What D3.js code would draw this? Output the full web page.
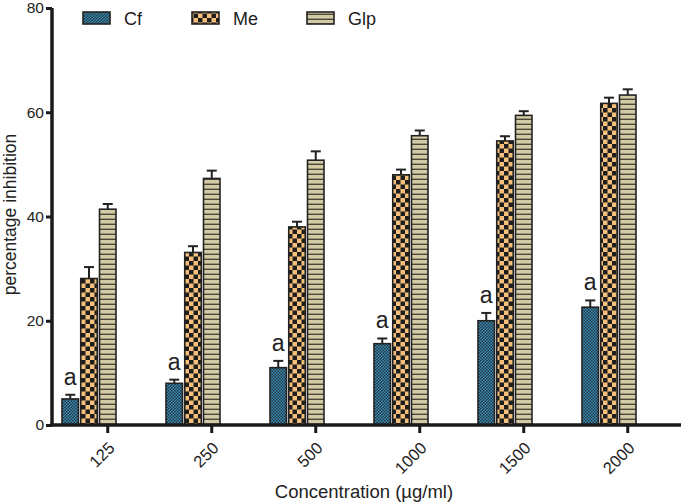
<!DOCTYPE html>
<html>
<head>
<meta charset="utf-8">
<script src="https://cdn.jsdelivr.net/npm/d3@7"></script>
<style>
body { margin: 0; background: #fff; }
text { font-family: Arial, "Liberation Sans", sans-serif; fill: #222; }
</style>
</head>
<body>
<script>
let concentrations = ["125", "250", "500", "1000", "1500", "2000"];
let seriesNames = ["Cf", "Me", "Glp"];
let cfValues = [5.0, 8.0, 11.0, 15.6, 20.0, 22.6];
let cfErrors = [0.8, 0.7, 1.3, 1.0, 1.5, 1.3];
let meValues = [28.1, 33.1, 38.0, 48.0, 54.5, 61.7];
let meErrors = [2.2, 1.2, 1.0, 1.0, 0.9, 1.1];
let glpValues = [41.4, 47.3, 50.8, 55.5, 59.4, 63.3];
let glpErrors = [1.0, 1.5, 1.7, 1.0, 0.8, 1.1];
let yTicks = [0, 20, 40, 60, 80];
let sigLabel = "a";

let svgWidth = 685,
    svgHeight = 503,
    margin = {top: 8, right: 5, bottom: 78, left: 52};

let svg = d3.select("body").append("svg")
    .attr("width", svgWidth)
    .attr("height", svgHeight);

let defs = svg.append("defs");

// fine checker for Cf
let pCf = defs.append("pattern").attr("id", "pCf")
    .attr("patternUnits", "userSpaceOnUse").attr("width", 3).attr("height", 3);
pCf.append("rect").attr("width", 3).attr("height", 3).attr("fill", "#3d8fb5");
pCf.append("rect").attr("width", 1.5).attr("height", 1.5).attr("fill", "#1f3340");
pCf.append("rect").attr("x", 1.5).attr("y", 1.5).attr("width", 1.5).attr("height", 1.5).attr("fill", "#1f3340");

// coarse checker for Me
let pMe = defs.append("pattern").attr("id", "pMe")
    .attr("patternUnits", "userSpaceOnUse").attr("width", 9).attr("height", 9);
pMe.append("rect").attr("width", 9).attr("height", 9).attr("fill", "#f6c07c");
pMe.append("rect").attr("width", 4.5).attr("height", 4.5).attr("fill", "#1e1e1e");
pMe.append("rect").attr("x", 4.5).attr("y", 4.5).attr("width", 4.5).attr("height", 4.5).attr("fill", "#1e1e1e");

// horizontal stripes for Glp
let pGlp = defs.append("pattern").attr("id", "pGlp")
    .attr("patternUnits", "userSpaceOnUse").attr("width", 6).attr("height", 5);
pGlp.append("rect").attr("width", 6).attr("height", 5).attr("fill", "#d3cba6");
pGlp.append("rect").attr("y", 3.6).attr("width", 6).attr("height", 1.4).attr("fill", "#4a4638");

let fills = ["url(#pCf)", "url(#pMe)", "url(#pGlp)"];
let values = [cfValues, meValues, glpValues];
let errors = [cfErrors, meErrors, glpErrors];

let y = d3.scaleLinear().domain([0, 80])
    .range([svgHeight - margin.bottom, margin.top]);

let x = d3.scaleBand().domain(concentrations)
    .range([margin.left, margin.left + 104 * concentrations.length]);

let xInner = d3.scaleBand().domain(seriesNames)
    .range([10, 64]).paddingInner(0.12);

// bars
seriesNames.forEach((s, si) => {
    let g = svg.append("g");
    concentrations.forEach((c, ci) => {
        let bx = x(c) + xInner(s);
        let bw = xInner.bandwidth();
        let v = values[si][ci];
        let e = errors[si][ci];
        let cx = bx + bw / 2;
        // error bar
        g.append("line")
            .attr("x1", cx).attr("x2", cx)
            .attr("y1", y(v)).attr("y2", y(v + e))
            .attr("stroke", "#222").attr("stroke-width", 2);
        g.append("line")
            .attr("x1", cx - 5).attr("x2", cx + 5)
            .attr("y1", y(v + e)).attr("y2", y(v + e))
            .attr("stroke", "#222").attr("stroke-width", 2);
        g.append("rect")
            .attr("x", bx).attr("y", y(v))
            .attr("width", bw).attr("height", y(0) - y(v))
            .attr("fill", fills[si])
            .attr("stroke", "#222").attr("stroke-width", 1.6);
        if (si === 0) {
            svg.append("text")
                .attr("x", cx).attr("y", y(v + e) - 10)
                .attr("text-anchor", "middle")
                .attr("font-size", 23)
                .text(sigLabel);
        }
    });
});

// axes
let yAxis = d3.axisLeft(y).tickValues(yTicks).tickSize(6).tickPadding(2);
let gy = svg.append("g")
    .attr("transform", "translate(" + margin.left + ",0)")
    .call(yAxis);
gy.select(".domain").attr("stroke", "#1a1a1a").attr("stroke-width", 3.5)
    .attr("d", "M0," + y(80) + "V" + y(0));
gy.selectAll(".tick line").attr("stroke", "#1a1a1a").attr("stroke-width", 3);
gy.selectAll(".tick text").attr("font-size", 15.5).attr("fill", "#222")
    .style("font-family", "Arial, 'Liberation Sans', sans-serif");

let tickPos = c => x(c) + xInner("Glp") + xInner.bandwidth() / 2;
let gx = svg.append("g")
    .attr("transform", "translate(0," + y(0) + ")");
gx.append("line")
    .attr("x1", margin.left - 2).attr("x2", 681)
    .attr("stroke", "#1a1a1a").attr("stroke-width", 3.5);
concentrations.forEach(c => {
    gx.append("line")
        .attr("x1", tickPos(c)).attr("x2", tickPos(c))
        .attr("y1", 0).attr("y2", 8)
        .attr("stroke", "#1a1a1a").attr("stroke-width", 3);
    gx.append("text")
        .attr("transform", "translate(" + (tickPos(c) + 4) + ",20) rotate(-45)")
        .attr("text-anchor", "end")
        .attr("dy", "0.35em")
        .attr("font-size", 16.5)
        .text(c);
});

// axis titles
svg.append("text")
    .attr("x", 364).attr("y", 498)
    .attr("text-anchor", "middle")
    .attr("font-size", 18.5)
    .text("Concentration (µg/ml)");

svg.append("text")
    .attr("transform", "translate(16," + (y(40) - 2) + ") rotate(-90)")
    .attr("text-anchor", "middle")
    .attr("font-size", 17.5)
    .text("percentage inhibition");

// legend
let legendX = [83, 192, 307];
seriesNames.forEach((s, i) => {
    svg.append("rect")
        .attr("x", legendX[i]).attr("y", 12)
        .attr("width", 27).attr("height", 12)
        .attr("fill", fills[i])
        .attr("stroke", "#222").attr("stroke-width", 1.6);
    svg.append("text")
        .attr("x", legendX[i] + 41).attr("y", 25)
        .attr("font-size", 18)
        .text(s);
});
</script>
</body>
</html>
